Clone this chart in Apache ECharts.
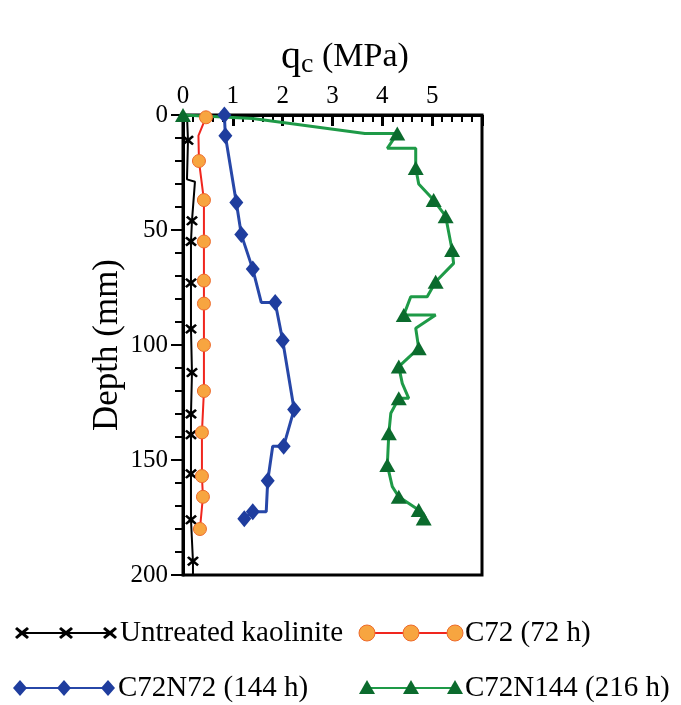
<!DOCTYPE html>
<html>
<head>
<meta charset="utf-8">
<script src="https://cdn.jsdelivr.net/npm/echarts@6/dist/echarts.min.js"></script>
<style>
  html, body { margin: 0; padding: 0; background: #fff; }
  #main { width: 681px; height: 705px; }
</style>
</head>
<body>
<div id="main"></div>
<script>
// depth (mm) on y, qc (MPa) on x. mark = 1 -> point drawn with a symbol
var untreatedDepth = [0, 11, 28, 29, 46, 55, 73, 93, 112, 130, 139, 156, 176, 194, 200];
var untreatedQc    = [0.08, 0.1, 0.08, 0.24, 0.18, 0.16, 0.16, 0.16, 0.18, 0.16, 0.16, 0.16, 0.16, 0.2, 0.2];
var untreatedMark  = [0, 1, 0, 0, 1, 1, 1, 1, 1, 1, 1, 1, 1, 1, 0];

var c72Depth = [1, 9, 20, 37, 55, 72, 82, 100, 120, 138, 157, 166, 180];
var c72Qc    = [0.46, 0.31, 0.32, 0.42, 0.42, 0.42, 0.42, 0.42, 0.42, 0.38, 0.38, 0.4, 0.34];
var c72Mark  = [1, 0, 1, 1, 1, 1, 1, 1, 1, 1, 1, 1, 1];

var c72n72Depth = [0, 9, 38, 52, 67, 81.5, 81.5, 98, 128, 144, 144, 159, 172.5, 172.5, 175.5];
var c72n72Qc    = [0.83, 0.85, 1.07, 1.17, 1.4, 1.57, 1.85, 2.0, 2.23, 2.02, 1.8, 1.7, 1.67, 1.4, 1.23];
var c72n72Mark  = [1, 1, 1, 1, 1, 0, 1, 1, 1, 1, 0, 1, 0, 1, 1];

var c72n144Depth = [0, 1.5, 8, 8, 14.5, 14.5, 23, 30, 37, 44, 58.7, 64.5, 72.5, 79, 79, 87, 87, 92.7,
                    101.4, 109.4, 116.7, 123.2, 123.2, 129.7, 138.4, 152.2, 161.6, 166, 171.7, 175.4];
var c72n144Qc    = [0, 1.4, 3.65, 4.3, 4.1, 4.67, 4.67, 4.73, 5.03, 5.27, 5.4, 5.43, 5.07, 4.9, 4.57, 4.43, 5.07, 4.67,
                    4.73, 4.33, 4.4, 4.53, 4.33, 4.17, 4.13, 4.1, 4.2, 4.33, 4.73, 4.83];
var c72n144Mark  = [1, 0, 0, 1, 0, 0, 1, 0, 1, 1, 1, 0, 1, 0, 0, 1, 0, 0,
                    1, 1, 0, 0, 1, 0, 1, 1, 0, 1, 1, 1];

var xTicks = [0, 1, 2, 3, 4, 5];
var legendNames = ['Untreated kaolinite', 'C72 (72 h)', 'C72N72 (144 h)', 'C72N144 (216 h)'];

var font = 'Liberation Serif';
var xPath = 'path://M0,1.5L1.5,0L5,3L8.5,0L10,1.5L6.8,4.5L10,7.5L8.5,9L5,6L1.5,9L0,7.5L3.2,4.5Z';

function build(qc, depth, mark) {
    return qc.map(function (v, i) {
        if (mark[i]) return [v, depth[i]];
        return { value: [v, depth[i]], symbol: 'none' };
    });
}

var myChart = echarts.init(document.getElementById('main'));

// legend drawn by hand: line + three symbols + text
function legendItem(x0, y, lineColor, shape, text) {
    var els = [{
        type: 'line', shape: { x1: x0, y1: y, x2: x0 + 88, y2: y },
        style: { stroke: lineColor, lineWidth: 2 }
    }];
    [0, 44, 88].forEach(function (dx) {
        els.push(shape(x0 + dx, y));
    });
    els.push({
        type: 'text', x: x0 + 98, y: y,
        style: { text: text, font: '29px "' + font + '"', fill: '#000', verticalAlign: 'middle' }
    });
    return els;
}
function cross(cx, cy) {
    return { type: 'polygon', shape: { points: [[cx - 7, cy - 4], [cx - 5, cy - 6], [cx, cy - 2], [cx + 5, cy - 6], [cx + 7, cy - 4], [cx + 2.5, cy], [cx + 7, cy + 4], [cx + 5, cy + 6], [cx, cy + 2], [cx - 5, cy + 6], [cx - 7, cy + 4], [cx - 2.5, cy]] }, style: { fill: '#000' } };
}
function dot(cx, cy) {
    return { type: 'circle', shape: { cx: cx, cy: cy, r: 8 }, style: { fill: '#f7a540', stroke: '#ee6a2a', lineWidth: 1 } };
}
function diamond(cx, cy) {
    return { type: 'polygon', shape: { points: [[cx, cy - 8], [cx + 7, cy], [cx, cy + 8], [cx - 7, cy]] }, style: { fill: '#1f3d9e' } };
}
function tri(cx, cy) {
    return { type: 'polygon', shape: { points: [[cx, cy - 8], [cx + 8, cy + 6], [cx - 8, cy + 6]] }, style: { fill: '#0b6b2d' } };
}

var graphics = []
    .concat(legendItem(22, 633, '#000', cross, legendNames[0]))
    .concat(legendItem(367, 633, '#f0261e', dot, legendNames[1]))
    .concat(legendItem(20, 688, '#2747a8', diamond, legendNames[2]))
    .concat(legendItem(367, 688, '#1e9a47', tri, legendNames[3]));

var option = {
    animation: false,
    backgroundColor: '#fff',
    title: {
        text: '{q|q}{c|c}{m| (MPa)}',
        left: 276,
        top: 30,
        textStyle: {
            fontWeight: 'normal',
            rich: {
                q: { fontFamily: font, fontSize: 40, fontWeight: 'normal', color: '#000' },
                c: { fontFamily: font, fontSize: 28, fontWeight: 'normal', color: '#000', padding: [16, 0, 0, 0] },
                m: { fontFamily: font, fontSize: 34, fontWeight: 'normal', color: '#000' }
            }
        }
    },
    grid: {
        left: 183, right: 199, top: 115, bottom: 130,
        show: true, borderColor: '#000', borderWidth: 3
    },
    xAxis: {
        type: 'value',
        position: 'top',
        min: 0, max: 6, interval: 1,
        axisLine: { lineStyle: { color: '#000', width: 3 } },
        axisTick: { inside: true, length: 11, lineStyle: { color: '#000', width: 3 } },
        minorTick: { show: true, splitNumber: 5, length: 7, lineStyle: { color: '#000', width: 2 } },
        splitLine: { show: false },
        axisLabel: {
            fontFamily: font, fontSize: 25, color: '#000', margin: 6,
            formatter: function (v) { return xTicks.indexOf(v) >= 0 ? String(v) : ''; }
        }
    },
    yAxis: {
        type: 'value',
        inverse: true,
        min: 0, max: 200, interval: 50,
        name: 'Depth (mm)',
        nameLocation: 'middle',
        nameGap: 58,
        nameTextStyle: { fontFamily: font, fontSize: 35, color: '#000' },
        axisLine: { lineStyle: { color: '#000', width: 3 } },
        axisTick: { length: 12, lineStyle: { color: '#000', width: 2 } },
        minorTick: { show: true, splitNumber: 5, length: 8, lineStyle: { color: '#000', width: 2 } },
        splitLine: { show: false },
        axisLabel: { fontFamily: font, fontSize: 25, color: '#000', margin: 15 }
    },
    graphic: graphics,
    series: [
        {
            name: legendNames[0], type: 'line', clip: false,
            data: build(untreatedQc, untreatedDepth, untreatedMark),
            symbol: xPath, symbolSize: [12, 10], showAllSymbol: true,
            lineStyle: { color: '#000', width: 2 },
            itemStyle: { color: '#000' }
        },
        {
            name: legendNames[1], type: 'line', clip: false,
            data: build(c72Qc, c72Depth, c72Mark),
            symbol: 'circle', symbolSize: 13, showAllSymbol: true,
            lineStyle: { color: '#f0261e', width: 2 },
            itemStyle: { color: '#f7a540', borderColor: '#ee6a2a', borderWidth: 1 }
        },
        {
            name: legendNames[2], type: 'line', clip: false,
            data: build(c72n72Qc, c72n72Depth, c72n72Mark),
            symbol: 'diamond', symbolSize: [14, 17], showAllSymbol: true,
            lineStyle: { color: '#2747a8', width: 3 },
            itemStyle: { color: '#1f3d9e' }
        },
        {
            name: legendNames[3], type: 'line', clip: false,
            data: build(c72n144Qc, c72n144Depth, c72n144Mark),
            symbol: 'triangle', symbolSize: [16, 14], showAllSymbol: true,
            lineStyle: { color: '#1e9a47', width: 3 },
            itemStyle: { color: '#0b6b2d' }
        }
    ]
};

myChart.setOption(option);
</script>
</body>
</html>
